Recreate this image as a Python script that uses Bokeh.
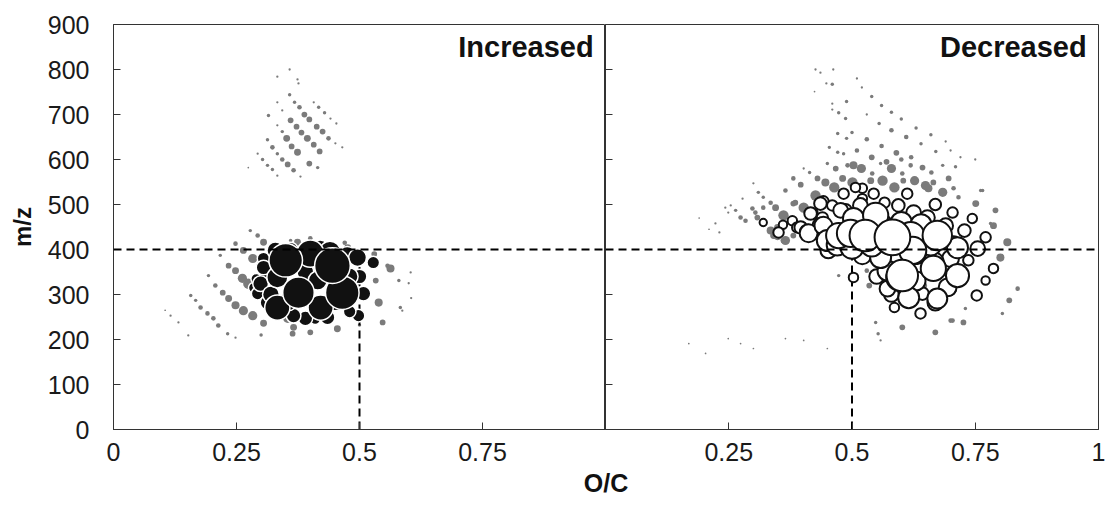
import numpy as np
from bokeh.plotting import figure
from bokeh.layouts import row, column
from bokeh.models import Span, Label, FixedTicker, CustomJSTickFormatter, ColumnDataSource
from bokeh.embed import file_html
from bokeh.resources import INLINE

# ---------------- data ----------------
y_tick_values = [0, 100, 200, 300, 400, 500, 600, 700, 800, 900]
inc_x_ticks = [0, 0.25, 0.5, 0.75]
dec_x_ticks = [0.25, 0.5, 0.75, 1]
threshold_oc = 0.5
threshold_mz = 400

# Increased panel - all detected formulas (grey)
inc_bg_oc = [
    0.105, 0.116, 0.132, 0.152, 0.157, 0.167, 0.177, 0.191, 0.203, 0.213,
    0.232, 0.193, 0.207, 0.222, 0.234, 0.248, 0.264, 0.283, 0.305, 0.217,
    0.234, 0.248, 0.262, 0.274, 0.289, 0.305, 0.319, 0.339, 0.354, 0.366,
    0.248, 0.264, 0.283, 0.299, 0.278, 0.293, 0.305, 0.325, 0.360, 0.400,
    0.248, 0.300, 0.364, 0.400, 0.455, 0.500, 0.563, 0.533, 0.539, 0.547,
    0.583, 0.605, 0.600, 0.470, 0.530, 0.335, 0.374, 0.476, 0.557, 0.580,
    0.587, 0.604,
    0.358, 0.333, 0.374, 0.376, 0.358, 0.333, 0.368, 0.407, 0.343, 0.378,
    0.417, 0.315, 0.388, 0.429, 0.360, 0.398, 0.441, 0.453, 0.372, 0.413,
    0.333, 0.343, 0.382, 0.425, 0.352, 0.394, 0.437, 0.313, 0.451, 0.323,
    0.362, 0.407, 0.333, 0.374, 0.419, 0.293, 0.303, 0.343, 0.313, 0.354,
    0.398, 0.323, 0.366, 0.415, 0.274, 0.333, 0.380, 0.465,
]
inc_bg_mz = [
    265, 253, 238, 209, 298, 287, 271, 258, 247, 231,
    213, 342, 320, 304, 291, 276, 264, 253, 236, 387,
    364, 353, 336, 324, 309, 298, 287, 264, 247, 227,
    413, 398, 380, 360, 442, 431, 416, 409, 420, 425,
    204, 210, 213, 216, 224, 232, 358, 331, 282, 238,
    271, 292, 325, 415, 390, 405, 416, 404, 364, 331,
    264, 349,
    800, 784, 778, 769, 744, 727, 727, 727, 709, 716,
    716, 698, 700, 704, 687, 689, 691, 680, 673, 673,
    676, 662, 660, 662, 647, 647, 647, 644, 636, 627,
    629, 633, 613, 616, 618, 613, 600, 600, 587, 589,
    591, 578, 576, 582, 582, 564, 562, 627,
]
inc_bg_abund = [
    1.5, 2, 2, 2, 3, 3, 4, 4, 4, 4,
    3, 3, 4, 5, 6, 7, 8, 8, 6, 3,
    5, 6, 8, 9, 9, 9, 8, 8, 8, 6,
    4, 6, 8, 8, 3, 4, 6, 5, 3, 4,
    2, 3, 5, 5, 6, 3, 7, 5, 7, 5,
    3, 2, 2, 4, 5, 6, 6, 6, 4, 3,
    2, 2,
    2, 2, 2, 2, 3, 2, 3, 2, 2, 4,
    3, 3, 5, 3, 5, 5, 2, 2, 5, 5,
    2, 3, 5, 5, 6, 6, 4, 3, 2, 4,
    5, 5, 3, 6, 5, 2, 3, 4, 3, 5,
    5, 3, 4, 3, 1.5, 2, 2, 2,
]

# Increased panel - significantly increased formulas (black)
inc_oc = [
    0.350, 0.400, 0.445, 0.496, 0.528, 0.376, 0.465, 0.421, 0.333, 0.498,
    0.508, 0.305, 0.299, 0.293, 0.313, 0.390, 0.366, 0.435, 0.415, 0.333,
    0.329, 0.310, 0.320, 0.355, 0.450, 0.480, 0.500, 0.390, 0.440, 0.420,
    0.360, 0.475, 0.285, 0.290, 0.305, 0.480, 0.410,
]
inc_mz = [
    376, 391, 364, 382, 371, 304, 304, 271, 271, 253,
    302, 360, 324, 302, 282, 247, 253, 249, 331, 338,
    398, 340, 300, 285, 285, 340, 340, 350, 395, 400,
    400, 388, 315, 335, 380, 262, 245,
]
inc_abund = [
    32, 26, 34, 17, 12, 30, 32, 24, 24, 12,
    14, 14, 15, 12, 14, 14, 14, 14, 18, 20,
    16, 12, 16, 18, 18, 16, 14, 16, 20, 18,
    14, 16, 10, 10, 12, 12, 10,
]

# Decreased panel - all detected formulas (grey)
dec_bg_oc = [
    0.426, 0.436, 0.462, 0.448, 0.460, 0.424, 0.489, 0.460, 0.460, 0.473,
    0.487, 0.489, 0.471, 0.483, 0.471, 0.454, 0.467, 0.491, 0.450, 0.464,
    0.446, 0.481, 0.430, 0.414, 0.402, 0.426, 0.402, 0.385, 0.381, 0.396,
    0.365, 0.361, 0.345, 0.320, 0.335, 0.300, 0.310, 0.298, 0.308, 0.320,
    0.335, 0.349, 0.365, 0.278, 0.264, 0.274, 0.284, 0.254, 0.243, 0.249,
    0.223, 0.231, 0.210, 0.190,
    0.466, 0.503, 0.519, 0.541, 0.558, 0.580, 0.602, 0.619, 0.643, 0.661,
    0.684, 0.710, 0.501, 0.538, 0.562, 0.586, 0.604, 0.627, 0.649, 0.665,
    0.684, 0.706, 0.696, 0.751, 0.791, 0.787, 0.815, 0.801, 0.836, 0.819,
    0.765, 0.726, 0.700, 0.643, 0.602, 0.553, 0.535, 0.473, 0.530, 0.381,
    0.349, 0.341, 0.381, 0.361, 0.320, 0.304,
    0.548, 0.669, 0.704, 0.730, 0.805, 0.558, 0.450, 0.402, 0.365, 0.300,
    0.249, 0.203, 0.169, 0.274, 0.655, 0.716, 0.781, 0.761,
    0.510, 0.520, 0.540, 0.560, 0.580, 0.600, 0.630, 0.660, 0.690, 0.530,
    0.555, 0.580, 0.610, 0.640, 0.670, 0.720, 0.500, 0.530, 0.560, 0.590,
    0.620, 0.510, 0.540, 0.570, 0.600, 0.750, 0.700,
]
dec_bg_mz = [
    800, 793, 800, 769, 767, 751, 729, 724, 711, 704,
    691, 647, 658, 613, 616, 627, 580, 587, 591, 538,
    549, 558, 558, 571, 580, 520, 493, 504, 558, 544,
    531, 476, 493, 516, 504, 547, 527, 491, 471, 458,
    442, 431, 420, 513, 487, 471, 464, 498, 493, 482,
    458, 438, 445, 470,
    578, 587, 580, 569, 591, 580, 569, 587, 582, 571,
    587, 584, 549, 553, 553, 538, 553, 553, 542, 549,
    527, 536, 558, 502, 487, 453, 416, 382, 313, 287,
    531, 238, 242, 320, 227, 213, 320, 342, 353, 502,
    449, 431, 431, 420, 493, 482,
    238, 216, 242, 269, 258, 198, 180, 198, 202, 180,
    202, 169, 191, 191, 536, 516, 458, 531,
    780, 760, 740, 720, 705, 690, 670, 655, 640, 700,
    680, 665, 650, 635, 618, 605, 660, 645, 630, 615,
    605, 620, 605, 595, 600, 600, 620,
]
dec_bg_abund = [
    2, 2, 2, 2, 3, 1.5, 3, 2, 2, 3,
    3, 3, 3, 3, 3, 3, 5, 4, 3, 9,
    7, 6, 5, 3, 2, 9, 9, 5, 4, 5,
    4, 9, 6, 3, 4, 2, 3, 4, 5, 6,
    7, 8, 8, 2, 3, 4, 4, 2, 2, 2,
    2, 2, 1.5, 1.5,
    3, 7, 8, 4, 3, 8, 4, 4, 5, 4,
    3, 3, 9, 6, 9, 9, 5, 8, 8, 5,
    8, 4, 5, 6, 5, 6, 7, 7, 4, 5,
    3, 5, 4, 8, 5, 3, 5, 3, 4, 5,
    6, 6, 5, 5, 4, 4,
    3, 5, 4, 3, 3, 2, 1.5, 1.5, 1.5, 1.5,
    1.5, 1.5, 1.5, 1.5, 7, 4, 3, 3,
    2, 2, 3, 3, 3, 3, 3, 3, 2, 2,
    3, 4, 4, 3, 3, 2, 3, 4, 4, 5,
    4, 4, 5, 5, 4, 2, 2,
]

# Decreased panel - significantly decreased formulas (white)
dec_oc = [
    0.582, 0.602, 0.673, 0.527, 0.497, 0.473, 0.619, 0.548, 0.623, 0.665,
    0.714, 0.615, 0.673, 0.572, 0.572, 0.558, 0.412, 0.442, 0.450, 0.503,
    0.517, 0.477, 0.436, 0.416, 0.396, 0.379, 0.483, 0.521, 0.544, 0.612,
    0.566, 0.594, 0.625, 0.669, 0.653, 0.704, 0.690, 0.728, 0.744, 0.771,
    0.755, 0.736, 0.787, 0.771, 0.753, 0.696, 0.643, 0.639, 0.586, 0.503,
    0.452, 0.706, 0.649, 0.521, 0.389, 0.410, 0.420, 0.442, 0.460, 0.507,
    0.521, 0.487, 0.436, 0.596, 0.694, 0.669, 0.665, 0.629, 0.714, 0.320,
    0.351, 0.360, 0.470, 0.500, 0.540, 0.560, 0.600, 0.640, 0.660, 0.700,
    0.580, 0.630, 0.550, 0.440,
]
dec_mz = [
    427, 342, 431, 431, 436, 431, 431, 476, 398, 358,
    342, 293, 291, 353, 313, 382, 436, 453, 420, 469,
    498, 487, 502, 480, 449, 464, 524, 536, 524, 524,
    504, 498, 482, 500, 471, 482, 453, 442, 469, 427,
    402, 376, 358, 331, 298, 313, 302, 258, 271, 338,
    398, 413, 382, 387, 449, 438, 480, 507, 498, 538,
    513, 487, 453, 338, 316, 282, 371, 391, 404, 460,
    438, 455, 410, 405, 410, 455, 460, 455, 410, 380,
    300, 330, 340, 470,
]
dec_abund = [
    34, 30, 28, 30, 26, 24, 26, 24, 26, 24,
    22, 20, 19, 19, 15, 20, 17, 17, 20, 20,
    14, 14, 12, 12, 12, 9, 10, 9, 10, 10,
    10, 12, 14, 11, 14, 10, 14, 12, 9, 10,
    14, 10, 9, 8, 10, 14, 12, 10, 9, 9,
    15, 14, 14, 17, 10, 15, 10, 10, 10, 9,
    9, 12, 15, 25, 17, 15, 20, 20, 20, 7,
    10, 8, 20, 22, 22, 20, 20, 20, 20, 16,
    14, 18, 14, 11,
]

# ---------------- styling ----------------
FONT = "Liberation Sans"
AX = "#333333"
GREY = "#7b7b7b"
BG_SCALE = 1.15
HL_SCALE = 1.05
LEFT_BORDER = 113
TOP_BORDER = 24
FRAME_W_L = 492
FRAME_W_R = 493
FRAME_H = 405


def sorted_source(oc, mz, ab, scale):
    oc = np.asarray(oc, float)
    mz = np.asarray(mz, float)
    ab = np.asarray(ab, float)
    order = np.argsort(ab, kind="stable")
    return ColumnDataSource(dict(x=oc[order], y=mz[order], s=ab[order] * scale))


def panel(frame_w, x_ticks, left_border, right_border, ylabels, title):
    p = figure(frame_width=frame_w, frame_height=FRAME_H, x_range=(0, 1), y_range=(0, 900),
               output_backend="svg", toolbar_location=None,
               min_border_left=left_border, min_border_right=right_border,
               min_border_top=TOP_BORDER, min_border_bottom=36)
    p.grid.visible = False
    p.outline_line_color = AX
    p.outline_line_width = 1
    p.background_fill_color = "white"
    p.border_fill_color = "white"
    p.xaxis.ticker = FixedTicker(ticks=x_ticks)
    p.xaxis.formatter = CustomJSTickFormatter(code="return String(tick);")
    p.yaxis.ticker = FixedTicker(ticks=y_tick_values)
    for ax in (p.xaxis[0], p.yaxis[0]):
        ax.axis_line_color = AX
        ax.major_tick_line_color = AX
        ax.major_tick_in = 7
        ax.major_tick_out = 0
        ax.minor_tick_line_color = None
        ax.major_label_text_font = FONT
        ax.major_label_text_font_size = "25px"
        ax.major_label_text_color = "#1a1a1a"
    p.xaxis.major_label_standoff = 13
    if ylabels:
        p.yaxis.major_label_standoff = 24
        p.yaxis.axis_label = "m/z"
        p.yaxis.axis_label_text_font = FONT
        p.yaxis.axis_label_text_font_style = "bold"
        p.yaxis.axis_label_text_font_size = "24px"
        p.yaxis.axis_label_text_color = "#111111"
        p.yaxis.axis_label_standoff = 9
    else:
        p.yaxis.formatter = CustomJSTickFormatter(code="return '';")
        p.yaxis.major_label_standoff = 0
    p.add_layout(Label(x=0.976, y=850, text=title, text_align="right", text_baseline="middle",
                       text_font=FONT, text_font_style="bold", text_font_size="29px",
                       text_color="#111111"))
    return p


def add_thresholds(p):
    p.segment(x0=[threshold_oc], y0=[0], x1=[threshold_oc], y1=[threshold_mz],
              line_color="black", line_width=2, line_dash="8 5")


def add_hline(p):
    p.add_layout(Span(location=threshold_mz, dimension="width", line_color="black",
                      line_width=2, line_dash="8 5"))


# Left panel: Increased
p1 = panel(FRAME_W_L, inc_x_ticks, LEFT_BORDER, 0, True, "Increased")
p1.scatter("x", "y", size="s", source=sorted_source(inc_bg_oc, inc_bg_mz, inc_bg_abund, BG_SCALE),
           fill_color=GREY, line_color=None)
add_thresholds(p1)
p1.scatter("x", "y", size="s", source=sorted_source(inc_oc, inc_mz, inc_abund, HL_SCALE),
           fill_color="#111111", line_color="white", line_width=1.5)
add_hline(p1)

# Right panel: Decreased
p2 = panel(FRAME_W_R, dec_x_ticks, 0, 8, False, "Decreased")
p2.scatter("x", "y", size="s", source=sorted_source(dec_bg_oc, dec_bg_mz, dec_bg_abund, BG_SCALE),
           fill_color=GREY, line_color=None)
add_thresholds(p2)
p2.scatter("x", "y", size="s", source=sorted_source(dec_oc, dec_mz, dec_abund, HL_SCALE),
           fill_color="white", line_color="#111111", line_width=2)
add_hline(p2)

# Shared x-axis title
pb = figure(frame_width=FRAME_W_L + FRAME_W_R, frame_height=34, x_range=(0, 1), y_range=(0, 1),
            x_axis_type=None, y_axis_type=None, output_backend="svg", toolbar_location=None,
            min_border_left=LEFT_BORDER, min_border_right=8, min_border_top=0, min_border_bottom=0)
pb.outline_line_color = None
pb.add_layout(Label(x=0.5, y=0.5, text="O/C", text_align="center", text_baseline="middle",
                    text_font=FONT, text_font_style="bold", text_font_size="25px",
                    text_color="#111111"))

layout = column(row(p1, p2), pb)
open("out.html", "w").write(file_html(layout, INLINE))
